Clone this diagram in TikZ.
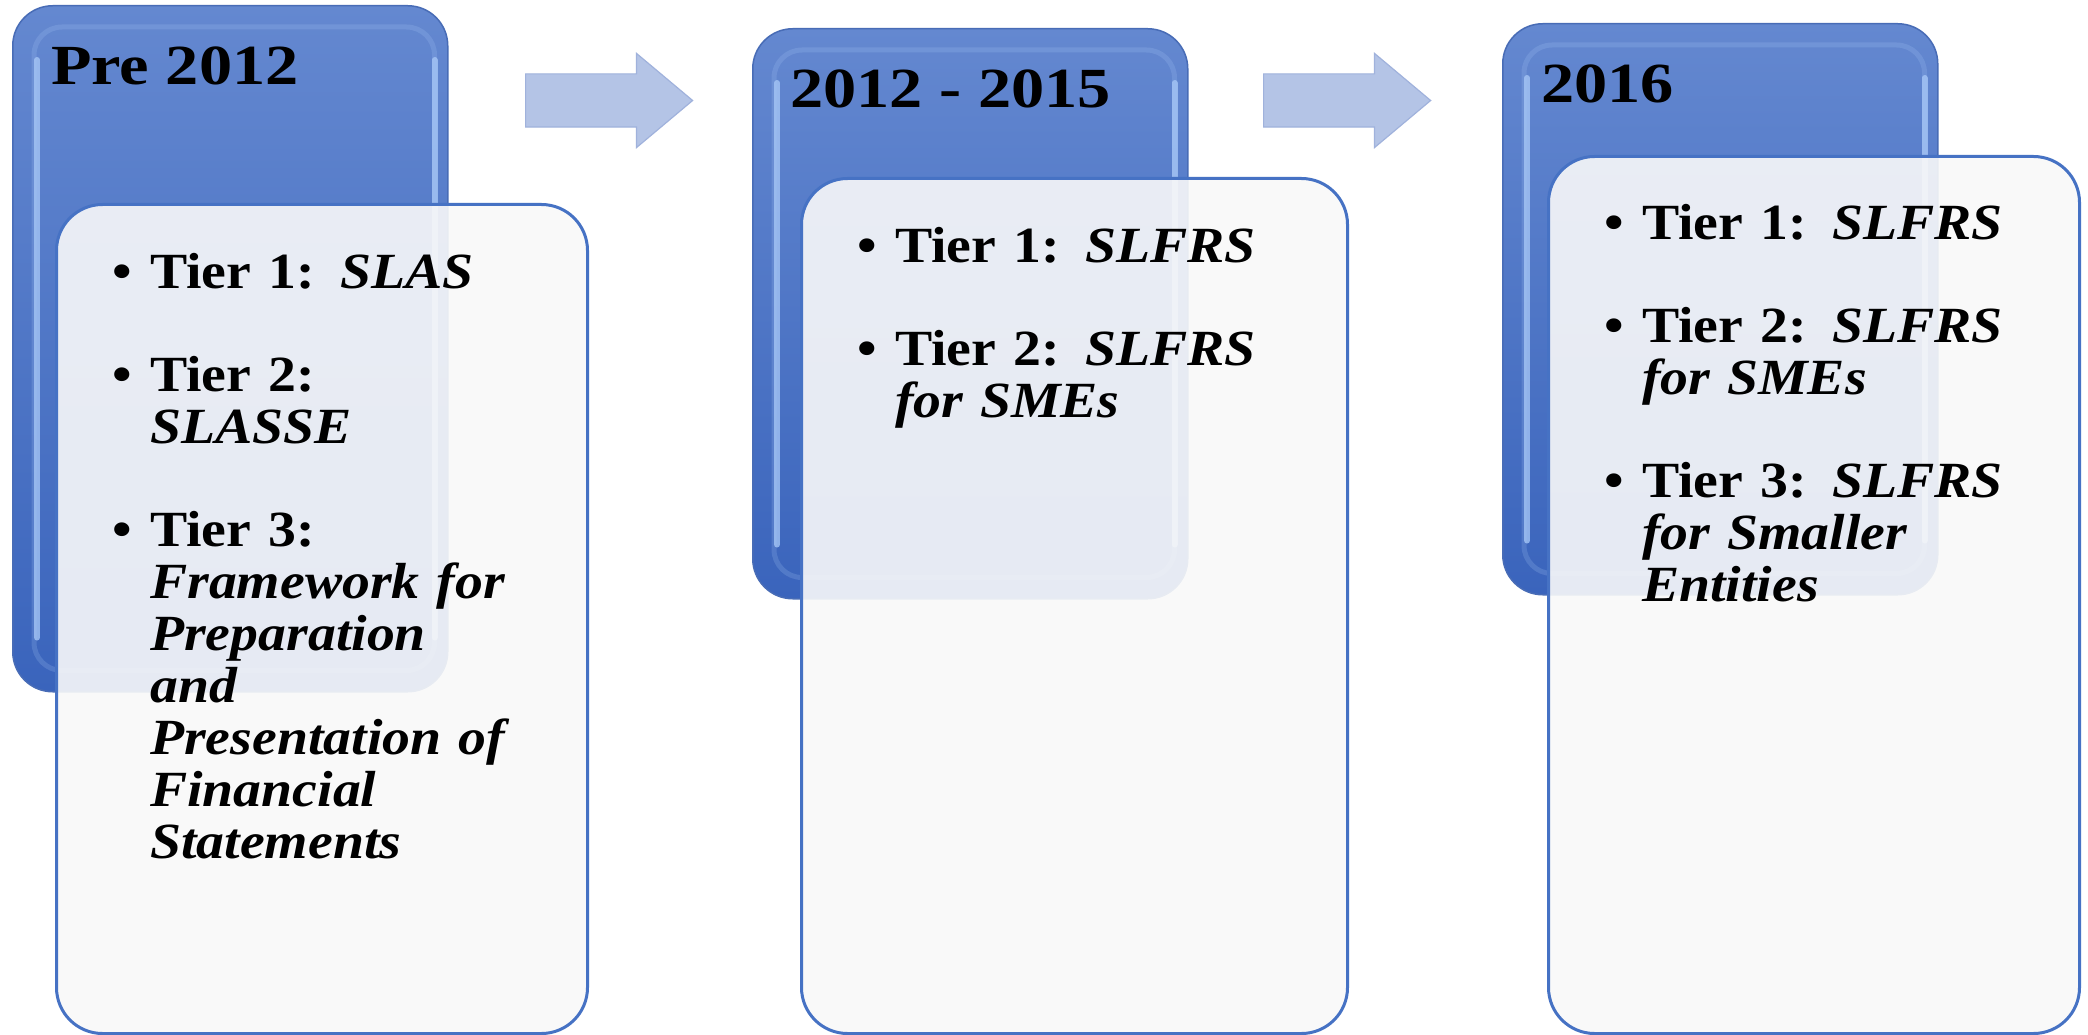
\documentclass[tikz,border=0pt]{standalone}
\usepackage{fontspec}
\setmainfont{Liberation Serif}[FakeStretch=1.1]
\newfontfamily\yearfont{Liberation Serif}[FakeStretch=1.17]
\usetikzlibrary{shapes.arrows, positioning}

\definecolor{boxtop}{RGB}{100,136,208}
\definecolor{boxbottom}{RGB}{58,100,188}
\definecolor{boxedge}{RGB}{72,108,182}
\definecolor{boxgloss}{RGB}{170,202,248}
\definecolor{cardline}{RGB}{70,114,196}
\definecolor{cardfill}{RGB}{249,249,249}
\definecolor{arrowfill}{RGB}{180,196,230}
\definecolor{arrowline}{RGB}{160,178,220}

\newcommand{\tier}[2]{\hangindent=38pt\hangafter=1\noindent
  \makebox[38pt][l]{\textbullet}Tier #1: \textit{#2}\par\vspace{51pt}}

\tikzset{
  yearbox/.style={rectangle, rounded corners=40pt, minimum width=435, top color=boxtop, bottom color=boxbottom, draw=boxedge, line width=1.5pt},
  gloss/.style={draw=boxgloss, line width=5pt, rounded corners=28pt, draw opacity=0.2},
  shine/.style={draw=boxgloss, line width=6pt, line cap=round, draw opacity=0.75},
  card/.style={rectangle, rounded corners=46pt, fill=cardfill, fill opacity=0.9, draw=cardline, line width=3pt},
  yeartext/.style={inner sep=0pt, font=\yearfont\bfseries\fontsize{56.7}{60}\selectfont},
  tiertext/.style={inner sep=0pt, text width=560pt, align=left, font=\bfseries\fontsize{50.7}{52}\selectfont},
  move/.style={single arrow, single arrow head extend=20.5pt, single arrow tip angle=80, minimum height=167pt, inner xsep=0pt, inner ysep=26pt, fill=arrowfill, draw=arrowline, line width=1.2pt}
}

\begin{document}
\begin{tikzpicture}[x=1pt, y=-1pt]
  \useasboundingbox[fill=white] (0,0) rectangle (2088,1035);

  % Kotak tahun dan kartu
  \foreach \n/\bx/\by/\bh/\wx/\wy/\ww/\wh in {1/12/5/686/55/203/531/829, 2/752/28/570/800/177/546/855, 3/1502/23/571/1547/155/531/877} {
    \node[yearbox, minimum height=\bh, anchor=north west] (b\n) at (\bx,\by) {};
    \draw[gloss] ([shift={(22,22)}]b\n.north west) rectangle ([shift={(-14,-22)}]b\n.south east);
    \draw[shine] ([shift={(25,55)}]b\n.north west) -- ([shift={(25,-55)}]b\n.south west);
    \draw[shine] ([shift={(-14,55)}]b\n.north east) -- ([shift={(-14,-55)}]b\n.south east);
    \node[card, minimum width=\ww, minimum height=\wh, anchor=north west] (w\n) at (\wx,\wy) {};
  }

  % Panah
  \node[move, anchor=tail] (a1) at (525,100.5) {};
  \node[move, anchor=tail] (a2) at (1263,100.5) {};

  % Judul tahun
  \node[yeartext, below right=80pt and 39pt of b1.north west, anchor=base west] (t1) {Pre 2012};
  \node[yeartext, below right=80pt and 38pt of b2.north west, anchor=base west] (t2) {2012 - 2015};
  \node[yeartext, below right=80pt and 39pt of b3.north west, anchor=base west] (t3) {2016};

  % Daftar tier
  \node[tiertext, below right=85pt and 57pt of w1.north west, anchor=base west] (l1) {%
    \tier{1}{SLAS}\tier{2}{\newline SLASSE}%
    \tier{3}{\newline Framework for\newline Preparation\newline and\newline Presentation of\newline Financial\newline Statements}};
  \node[tiertext, below right=85pt and 57pt of w2.north west, anchor=base west] (l2) {%
    \tier{1}{SLFRS}\tier{2}{SLFRS\newline for SMEs}};
  \node[tiertext, below right=85pt and 57pt of w3.north west, anchor=base west] (l3) {%
    \tier{1}{SLFRS}\tier{2}{SLFRS\newline for SMEs}\tier{3}{SLFRS\newline for Smaller\newline Entities}};
\end{tikzpicture}
\end{document}
